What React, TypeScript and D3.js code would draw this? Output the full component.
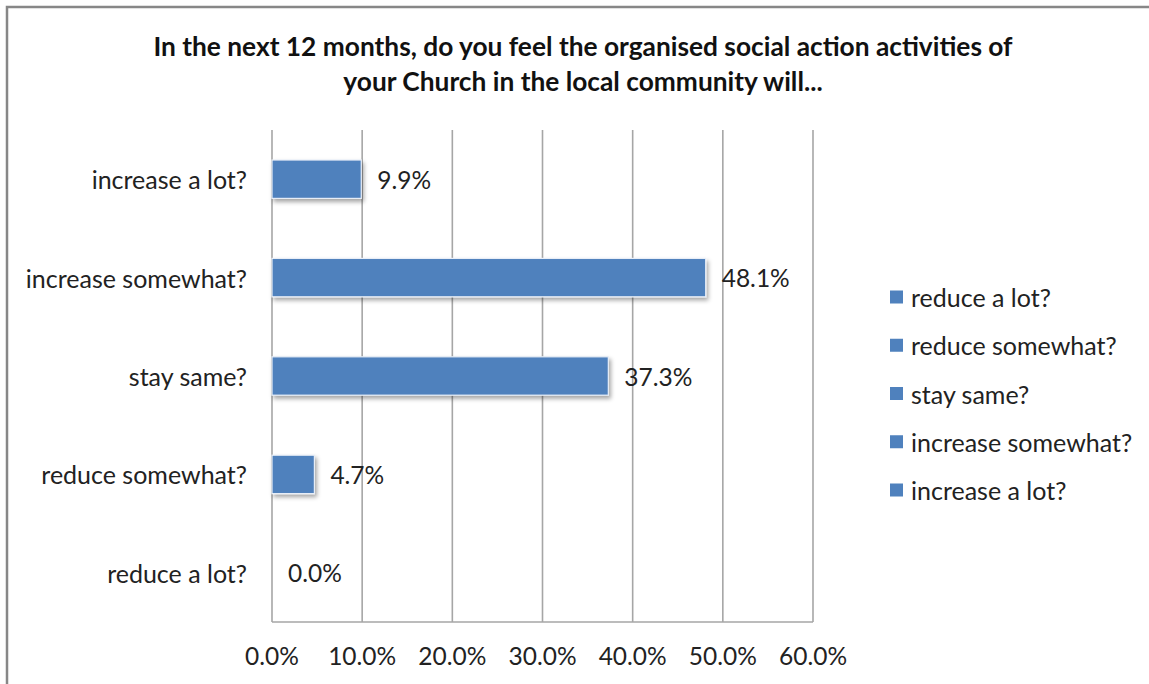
import React from "react";
import * as d3 from "d3";

const titleLines = [
  "In the next 12 months, do you feel the organised social action activities of",
  "your Church in the local community will...",
];
const categories = [
  "increase a lot?",
  "increase somewhat?",
  "stay same?",
  "reduce somewhat?",
  "reduce a lot?",
];
const values = [9.9, 48.1, 37.3, 4.7, 0.0];
const xTicks = [0, 10, 20, 30, 40, 50, 60];
const legendItems = [
  "reduce a lot?",
  "reduce somewhat?",
  "stay same?",
  "increase somewhat?",
  "increase a lot?",
];

const W = 1149;
const H = 684;
const BAR = "#4F81BD";
const GRID = "#A6A6A6";
const FONT = "Lato, 'Open Sans', sans-serif";

export default function App() {
  const x = d3.scaleLinear().domain([0, 60]).range([272, 813]);
  const y = d3
    .scaleBand<string>()
    .domain(categories)
    .range([130, 622])
    .paddingInner(0.61)
    .paddingOuter(0.305);
  const legendY = d3
    .scalePoint<string>()
    .domain(legendItems)
    .range([297, 490]);

  return (
    <svg
      width={W}
      height={H}
      style={{ position: "absolute", left: 0, top: 0, background: "#fff" }}
    >
      <defs>
        <filter id="shadow" x="-10%" y="-30%" width="130%" height="190%">
          <feDropShadow dx="2" dy="3" stdDeviation="2.2" floodColor="#000" floodOpacity="0.35" />
        </filter>
      </defs>
      <rect x={0} y={0} width={W} height={H} fill="#fff" />
      <rect x={7} y={7} width={W + 20} height={H + 20} fill="none" stroke="#878787" strokeWidth={2.5} />

      {/* title */}
      {titleLines.map((t, i) => (
        <text
          key={i}
          x={583}
          y={56 + i * 35}
          textAnchor="middle"
          fontFamily={FONT}
          fontWeight="bold"
          fontSize={26.3}
          fill="#111"
        >
          {t}
        </text>
      ))}

      {/* gridlines */}
      {xTicks.map((t) => (
        <line
          key={t}
          x1={x(t)}
          x2={x(t)}
          y1={130}
          y2={622}
          stroke={GRID}
          strokeWidth={1.6}
        />
      ))}
      <line x1={x(0)} x2={x(60)} y1={622} y2={622} stroke={GRID} strokeWidth={1.6} />

      {/* bars */}
      {categories.map((c, i) => (
        <rect
          key={c}
          x={x(0)}
          y={y(c)!}
          width={Math.max(0, x(values[i]) - x(0))}
          height={y.bandwidth()}
          fill={BAR}
          stroke="#E8EEF7"
          strokeWidth={1.2}
          filter="url(#shadow)"
        />
      ))}

      {/* value labels */}
      {categories.map((c, i) => (
        <text
          key={c}
          x={x(values[i]) + 16}
          y={y(c)! + y.bandwidth() / 2}
          dominantBaseline="central"
          fontFamily={FONT}
          fontSize={24.5}
          fill="#222"
        >
          {values[i].toFixed(1) + "%"}
        </text>
      ))}

      {/* category labels */}
      {categories.map((c) => (
        <text
          key={c}
          x={247}
          y={y(c)! + y.bandwidth() / 2}
          dominantBaseline="central"
          textAnchor="end"
          fontFamily={FONT}
          fontSize={25}
          fill="#222"
        >
          {c}
        </text>
      ))}

      {/* x tick labels */}
      {xTicks.map((t) => (
        <text
          key={t}
          x={x(t)}
          y={655}
          dominantBaseline="central"
          textAnchor="middle"
          fontFamily={FONT}
          fontSize={24.5}
          fill="#222"
        >
          {t.toFixed(1) + "%"}
        </text>
      ))}

      {/* legend */}
      {legendItems.map((l) => (
        <g key={l} transform={`translate(0,${legendY(l)})`}>
          <rect x={890} y={-6.5} width={13} height={13} fill={BAR} />
          <text
            x={911}
            y={0}
            dominantBaseline="central"
            fontFamily={FONT}
            fontSize={25}
            fill="#222"
          >
            {l}
          </text>
        </g>
      ))}
    </svg>
  );
}
